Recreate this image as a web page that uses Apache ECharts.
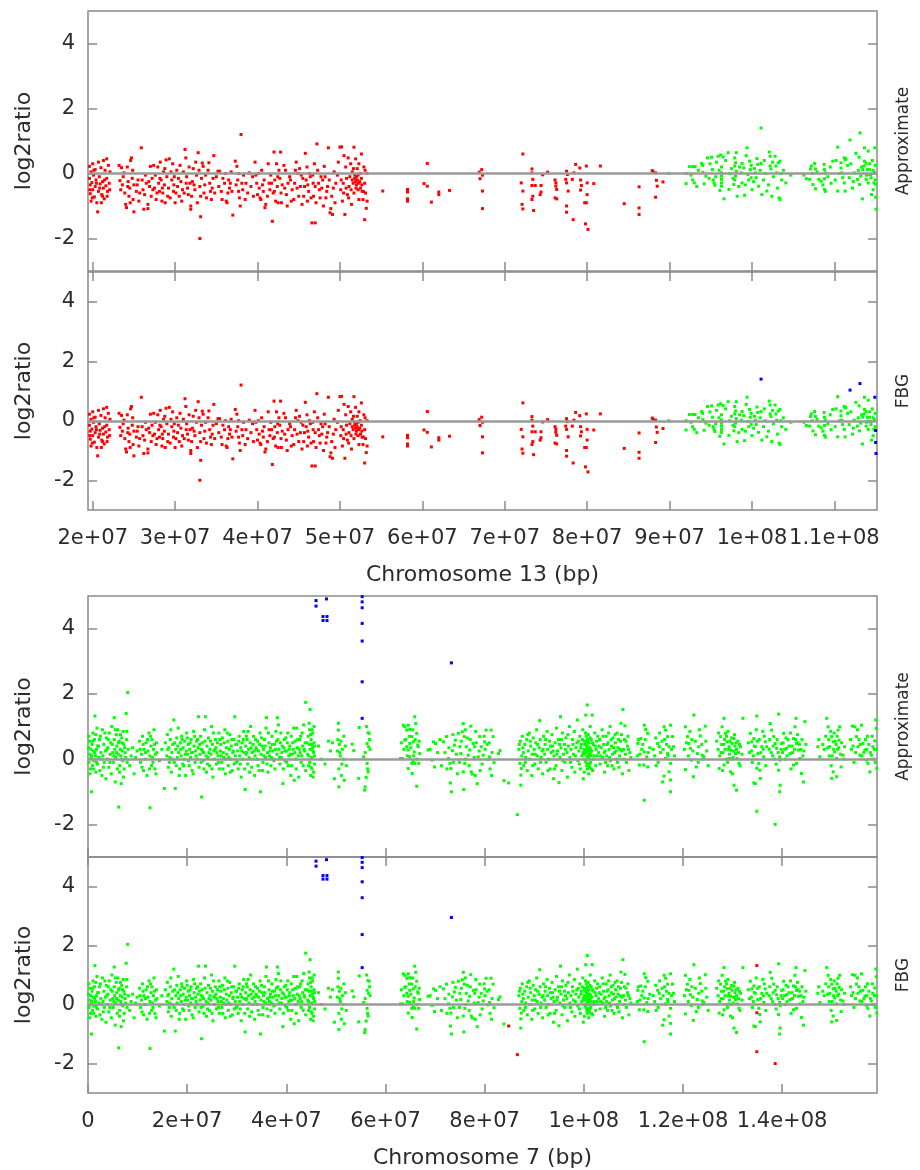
<!DOCTYPE html>
<html>
<head>
<meta charset="utf-8">
<script src="https://cdn.jsdelivr.net/npm/echarts@6/dist/echarts.min.js"></script>
<style>
  html, body { margin: 0; padding: 0; background: #fff; }
  #chart { width: 920px; height: 1170px; }
</style>
</head>
<body>
<div id="chart"></div>
<script>
// positions are in Mb, values are log2 ratios

// chromosome 13: called as loss (red) in both panels
var chr13Loss = [
  [19.6,-0.15],[19.6,0.22],[19.7,-0.35],[19.7,-0.62],[19.8,0.05],[19.8,-0.85],[19.9,-0.28],[20.0,0.3],[20.0,-0.5],[20.1,-0.05],
  [20.2,-0.72],[20.3,0.12],[20.3,-0.4],[20.4,-0.2],[20.5,-0.9],[20.6,-1.18],[20.7,0.35],[20.7,-0.55],[20.8,-0.1],[20.9,-0.32],
  [21.0,0.18],[21.1,-0.65],[21.2,-0.25],[21.3,-0.45],[21.3,0.4],[21.4,-0.78],[21.5,0.1],[21.6,-0.38],[21.7,0.45],[21.7,-0.15],
  [21.8,-0.55],[21.9,0.25],[22.0,-0.3],[22.1,0.05],[21.2,-0.7],
  [19.65,-0.5],[19.95,-0.75],[20.15,0.1],[20.45,-0.3],[20.85,-0.45],[21.05,-0.9],[21.45,-0.2],[21.75,-0.7],[22.05,-0.5],
  [23.2,0.25],[23.3,-0.22],[23.5,0.18],[23.6,-0.35],[23.8,0.02],[23.9,-0.6],[24.0,-0.95],[24.1,-1.05],[24.2,0.2],[24.3,-0.25],
  [24.4,-0.7],[24.5,-0.45],[24.6,0.4],[24.7,0.48],[24.8,-0.15],[24.9,-0.8],[25.0,-1.18],[25.0,-0.35],
  [23.4,-0.5],[23.7,-0.1],[24.25,-0.4],[24.55,-0.9],[24.85,0.1],
  [25.3,-0.55],[25.5,-0.2],[25.6,-0.85],[25.9,0.79],[26.0,-0.2],[26.1,-0.5],[26.2,-1.1],[26.3,-0.65],[26.5,-0.3],[26.7,-0.95],
  [26.7,-1.08],[26.9,-0.4],[27.0,0.22],[27.1,-0.7],[27.2,-0.15],
  [25.4,-0.35],[25.7,-0.6],[26.4,-0.05],[26.8,-0.25],[27.3,-0.5],
  [27.4,0.25],[27.5,-0.45],[27.6,-0.05],[27.7,-0.8],[27.9,0.2],[28.0,-0.3],[28.1,-0.55],[28.2,0.35],[28.3,-0.2],[28.4,-0.85],
  [28.5,-0.6],[28.6,0.05],[28.7,-0.35],[28.8,-0.9],[28.9,0.42],[29.0,-0.1],
  [27.8,-0.6],[28.15,-0.15],[28.45,-0.45],[28.75,0.15],[29.1,-0.7],
  [29.2,-0.45],[29.3,0.45],[29.4,-0.75],[29.6,-0.2],[29.7,0.3],[29.8,-0.55],[29.9,-0.1],[30.0,-0.9],[30.2,0.1],[30.3,-0.4],
  [30.5,-0.7],[30.6,0.25],[30.7,-0.25],[30.9,-0.5],[31.0,0.05],[31.1,-0.6],
  [29.5,0.05],[29.85,-0.35],[30.1,-0.6],[30.4,-0.15],[30.8,-0.85],
  [31.2,0.74],[31.3,0.48],[31.4,-0.1],[31.5,-0.45],[31.6,-0.65],[31.8,-0.3],[31.9,-1.0],[31.9,-1.1],[32.1,-0.25],[32.2,0.15],
  [32.4,-0.5],[32.6,-0.05],[32.8,0.64],[32.9,0.1],[33.0,-2.0],[33.0,-0.4],[33.1,-1.33],[33.1,-0.7],
  [31.35,-0.3],[31.7,0.2],[32.0,-0.7],[32.3,-0.35],[32.5,0.35],[32.7,-0.9],
  [33.3,0.32],[33.4,0.22],[33.5,-0.6],[33.6,-0.35],[33.8,-0.75],[34.0,0.1],[34.1,0.33],[34.2,-0.3],[34.4,-0.8],[34.5,-0.45],
  [34.7,0.55],[34.8,-0.6],[35.0,-0.1],
  [33.2,-0.15],[33.7,-0.05],[34.3,-0.55],[34.6,-0.15],
  [35.2,0.07],[35.4,0.07],[35.6,-0.55],[35.8,-0.15],[36.0,-0.3],[36.2,-0.85],[36.3,-0.9],[36.5,-0.2],[36.6,-0.45],[36.8,0.05],
  [37.0,-1.28],[36.9,-0.55],
  [35.3,-0.4],[35.7,-0.8],[36.1,0.0],[36.4,-0.6],[36.7,-0.3],
  [37.3,0.38],[37.5,0.22],[37.6,-0.2],[37.7,-0.55],[37.8,-0.75],[37.9,-1.0],[38.0,1.2],[38.1,-0.3],[38.3,-0.05],[38.6,-0.3],
  [38.8,-0.6],[39.0,0.02],
  [37.4,-0.35],[37.7,0.0],[38.2,-0.5],[38.5,-0.8],
  [39.4,-0.1],[39.7,0.35],[39.8,-0.05],[40.0,-0.65],[40.1,0.0],[40.3,-0.75],[40.4,-0.8],[40.6,-0.35],[40.7,-0.55],[40.9,-1.05],
  [41.0,-0.95],[40.5,0.1],
  [39.2,-0.4],[39.5,-0.7],[39.9,-0.3],[40.2,-0.45],[40.8,-0.2],
  [41.3,0.3],[41.4,-0.3],[41.5,-0.5],[41.6,-0.05],[41.8,-1.47],[41.9,-0.6],[42.0,0.66],[42.1,-0.2],[42.2,-0.85],[42.3,0.3],
  [42.4,-0.4],[42.5,-0.9],[42.6,0.1],[42.7,-0.15],[42.8,0.66],[42.9,-0.9],[43.0,-0.35],
  [41.2,-0.7],[41.7,-0.3],[42.05,-0.55],[42.45,-0.1],[42.85,-0.6],
  [43.2,0.25],[43.4,0.1],[43.5,-0.65],[43.6,-1.0],[43.9,-0.1],[44.0,-0.2],[44.2,-0.5],[44.4,-0.8],[44.6,0.1],[44.7,0.35],
  [44.8,-0.45],[45.0,-0.7],
  [43.3,-0.45],[43.7,-0.3],[44.1,-0.85],[44.5,-0.3],[44.9,0.0],
  [45.1,0.15],[45.3,-0.05],[45.5,-0.15],[45.6,-0.7],[45.8,0.62],[45.9,-0.2],[46.0,0.2],[46.1,-0.35],[46.2,-0.55],[46.4,-0.1],
  [46.5,-0.75],[46.6,-1.52],[46.7,-0.05],[46.8,-0.7],[46.9,0.3],[47.0,-1.52],[47.0,-0.4],
  [45.2,-0.4],[45.4,-0.95],[45.7,-0.4],[46.05,-0.85],[46.3,0.0],[46.75,-0.3],
  [47.2,0.91],[47.4,-0.3],[47.5,-0.5],[47.7,-0.1],[47.9,-0.2],[48.1,0.22],[48.3,-0.75],[48.5,-0.4],[48.6,0.79],[48.8,-1.21],
  [48.9,-1.08],[49.0,-0.7],[49.1,-1.26],[49.3,0.05],[49.5,-0.3],
  [47.1,-0.9],[47.3,0.1],[47.6,-0.75],[47.8,-0.45],[48.0,-1.0],[48.2,-0.1],[48.4,-0.55],[48.7,-0.2],[49.2,-0.45],[49.4,-0.9],
  [49.7,-0.05],[49.8,0.35],[50.0,0.81],[50.1,-0.5],[50.2,0.82],[50.3,-0.85],[50.4,-0.3],[50.5,0.55],[50.6,-1.26],[50.7,0.2],
  [50.8,-0.15],[50.9,-0.65],[51.0,0.48],[51.1,-0.4],[51.2,-0.1],[51.3,0.3],[51.4,-0.95],[51.5,-0.2],[51.5,0.05],[51.6,-0.3],
  [51.7,0.81],[51.7,-0.6],[51.8,-0.15],[51.8,-0.05],[51.9,0.45],[51.9,-0.25],[52.0,-0.1],[52.0,-0.35],[52.1,0.15],[52.1,-0.2],
  [52.2,-0.5],[52.2,-0.05],[52.3,-0.8],[52.3,0.3],[52.4,-0.25],[52.5,-0.45],[52.6,0.6],[52.6,-0.15],[52.7,-0.55],[52.8,-0.8],
  [52.9,0.2],[53.0,-1.42],[53.0,-0.3],[53.1,-0.6],[53.2,-1.07],[53.3,-0.85],[53.3,0.0],
  [50.15,-0.2],[50.45,-0.6],[50.75,-0.45],[51.05,-0.75],[51.35,-0.5],[51.65,0.15],[51.95,-0.45],[52.25,-0.3],[52.45,0.0],
  [52.65,-0.35],[52.85,-0.55],[53.05,0.1],
  [55.2,-0.54],[58.2,-0.49],[58.2,-0.57],[58.2,-0.78],[58.2,-0.85],[60.2,-0.31],[60.6,-0.39],[60.6,0.31],[61.1,-0.88],
  [62.0,-0.57],[62.0,-0.65],[63.3,-0.52],
  [66.9,0.04],[67.2,0.12],[67.3,-0.05],[67.0,-0.16],[67.3,-0.54],[67.3,-1.08],
  [72.2,0.6],[72.0,-0.29],[72.2,-0.54],[72.1,-0.95],[72.2,-1.09],
  [73.3,0.14],[73.3,0.02],[73.4,-0.18],[73.3,-0.37],[73.4,-0.7],[73.3,-0.8],[73.5,-1.14],[73.7,-0.37],
  [74.4,-0.37],[74.4,-0.57],[74.3,-0.65],[74.6,-0.04],[75.2,0.04],
  [76.1,-0.2],[76.2,-0.29],[76.2,-0.39],[76.3,-0.49],[76.1,-0.75],[76.3,-0.78],
  [77.5,0.07],[77.6,-0.03],[77.4,-0.18],[77.5,-0.29],[77.7,-0.54],[77.5,-1.0],[77.5,-1.19],
  [78.3,-1.42],[78.6,0.28],[78.4,0.02],[78.2,-0.18],
  [79.1,0.17],[79.2,-0.2],[79.3,-0.37],[79.2,-0.51],
  [79.9,0.23],[80.0,-0.29],[80.0,-0.65],[79.9,-0.9],[79.7,-0.9],[79.8,-1.55],[80.1,-1.72],
  [80.8,-0.31],[81.6,0.23],[84.5,-0.93],[86.3,-0.41],[86.3,-1.06],[86.3,-1.26],
  [87.9,0.09],[88.0,0.05],[88.3,0.02],[88.4,-0.21],[88.5,-0.39],[88.3,-0.73],[89.2,-0.26]
];

// chromosome 13: normal (green) in both panels
var chr13Normal = [
  [89.9,0.0],[92.0,-0.31],[92.0,0.0],[92.4,0.21],[92.8,0.21],[93.1,0.21],[92.8,-0.2],[93.0,-0.29],[93.9,0.31],[94.05,0.04],
  [94.2,-0.32],[94.4,-0.08],[94.6,0.48],[95.1,0.5],[95.2,0.12],[95.3,-0.2],[95.4,-0.29],[95.5,-0.36],[95.9,0.53],[96.2,0.57],
  [96.5,0.51],[96.3,0.2],[96.3,0.02],[96.3,-0.08],[96.3,-0.18],[96.3,-0.29],[96.3,-0.39],[96.1,-0.52],[96.6,-0.78],[97.1,0.64],
  [97.2,-0.49],[97.9,0.48],[98.0,0.33],[97.9,0.23],[98.1,0.07],[98.0,-0.08],[97.9,-0.2],[97.8,-0.34],[98.1,0.64],[98.2,-0.7],
  [98.8,0.31],[99.0,0.17],[98.7,0.02],[98.8,-0.29],[99.1,-0.67],[99.4,0.79],[99.5,-0.03],[99.7,0.38],[99.8,0.12],[99.6,-0.2],
  [99.9,-0.13],[100.3,0.15],[100.6,0.46],[100.7,0.28],[100.5,-0.13],[100.8,-0.39],[100.4,0.02],[101.2,-0.65],[101.1,0.31],
  [101.4,-0.2],[101.8,-0.54],[102.1,0.66],[102.2,0.53],[102.2,0.23],[102.3,0.14],[102.4,-0.7],[102.8,0.53],[102.9,0.23],
  [103.0,0.02],[103.2,0.33],[103.4,0.38],[103.3,-0.75],[103.4,-0.8],[103.6,-0.2],[104.1,-0.29],[104.7,-0.05],
  [93.5,0.1],[94.8,-0.15],[95.7,0.35],[97.5,0.15],[98.4,-0.4],[99.3,0.55],[100.0,-0.5],[101.6,0.0],[102.6,-0.1],[103.8,0.1],
  [92.6,-0.05],[93.3,-0.4],[94.0,0.25],[94.9,0.3],[95.6,-0.1],[96.0,0.1],[96.8,0.4],[97.3,0.0],[97.7,-0.15],[98.5,0.2],
  [99.2,-0.35],[99.9,0.25],[100.2,-0.25],[101.0,0.1],[101.5,0.4],[102.0,-0.35],[102.5,0.35],[103.1,-0.45],[103.5,0.0],
  [106.3,-0.05],[106.6,-0.16],[107.0,-0.18],[107.1,0.14],[107.2,0.23],[107.6,0.31],[107.7,0.14],[107.4,-0.34],[107.7,-0.47],
  [108.1,-0.18],[108.4,-0.24],[108.75,0.28],[108.8,0.12],[108.9,0.02],[108.8,-0.16],[108.8,-0.49],[108.9,-0.55],
  [107.3,0.0],[107.9,0.05],[108.6,-0.35],
  [109.8,0.38],[110.4,0.81],[110.4,-0.54],[110.8,0.33],[110.8,0.17],[110.9,0.02],[111.0,-0.13],[111.2,-0.29],[111.2,0.48],
  [111.3,0.43],[111.4,0.45],[111.3,-0.54],[111.8,-0.13],[112.6,0.62],[112.4,0.02],[112.8,-0.18],[113.05,-0.34],[113.2,-0.08],
  [113.45,0.12],[113.6,0.23],[113.65,0.79],[113.4,-0.78],[113.65,0.38],[113.85,0.31],[114.0,0.12],[114.1,-0.03],[113.85,-0.18],
  [114.1,-0.29],[114.1,0.69],[114.5,-0.65],[114.25,0.12],[114.4,-0.03],[114.45,-0.13],[114.8,-0.29],[114.85,0.04],
  [109.2,-0.1],[109.5,0.2],[110.1,-0.2],[112.0,0.3],[112.2,-0.45],[113.0,0.5],[114.6,0.4],[114.7,-0.5],[114.95,-0.2],[114.95,0.25],
  [109.6,-0.3],[110.2,0.4],[110.6,0.0],[111.6,0.25],[112.3,-0.25],[112.9,0.1],[113.3,0.2],[113.9,-0.05],[114.3,0.3],[114.7,0.1]
];

// chromosome 13: normal in Approximate, gain (blue) in FBG
var chr13Gain = [
  [101.1,1.4],[111.9,1.03],[113.1,1.25],[114.9,0.79],[115.0,-0.33],[115.0,-0.73],[115.05,-1.1]
];

// chromosome 7: normal (green) in both panels
var chr7Normal = [
  [0.1,0.35],[0.2,-0.1],[0.3,0.55],[0.4,0.15],[0.5,-0.3],[0.6,0.05],[0.7,-1.0],[0.8,0.45],[0.9,-0.2],[1.0,0.8],
  [1.1,0.25],[1.2,-0.05],[1.3,0.6],[1.4,1.32],[1.5,0.1],[1.6,-0.4],[1.7,0.3],[1.8,0.95],[1.9,-0.15],
  [0.15,0.7],[0.35,-0.45],[0.55,0.3],[0.75,0.1],[0.95,0.55],[1.15,-0.3],[1.35,0.2],[1.55,0.75],[1.75,-0.1],[1.95,0.4],
  [2.1,0.4],[2.2,0.05],[2.4,-0.35],[2.5,0.7],[2.6,0.2],[2.8,-0.5],[2.9,0.9],[3.0,0.1],[3.2,0.45],[3.3,-0.1],
  [3.5,0.25],[3.6,-0.6],[3.7,0.65],[3.9,0.0],[2.3,0.6],[2.7,0.0],[3.1,-0.25],[3.4,0.8],[3.8,0.3],
  [4.0,0.35],[4.2,-0.25],[4.3,0.8],[4.5,0.15],[4.6,0.5],[4.7,-0.45],[4.8,1.0],[5.0,0.2],[5.1,-0.1],[5.3,1.27],
  [5.3,0.6],[5.4,0.3],[5.5,-0.7],[5.6,0.05],[5.7,0.75],[5.8,0.4],[5.9,-0.3],
  [4.1,0.6],[4.4,-0.1],[4.9,0.45],[5.2,0.1],[5.5,0.9],[5.75,0.2],
  [6.0,0.9],[6.1,0.15],[6.2,-1.47],[6.3,0.55],[6.4,-0.2],[6.5,0.3],[6.6,0.1],[6.7,-0.75],[6.8,0.65],[6.9,0.25],
  [7.0,-0.05],[7.1,0.85],[7.2,0.45],[7.3,-0.3],[7.5,0.2],[7.7,1.4],[7.8,0.6],[7.9,-0.1],[8.0,2.04],[8.1,0.3],
  [6.15,0.5],[6.35,-0.4],[6.55,0.75],[6.75,0.0],[6.95,0.5],[7.15,-0.55],[7.4,0.35],[7.6,0.05],[7.85,0.85],
  [8.4,-0.2],[8.7,0.1],[9.0,0.35],[9.3,-0.45],[9.6,0.05],[9.9,0.25],
  [10.4,0.55],[10.6,-0.1],[10.8,0.15],[11.0,0.7],[11.2,-0.35],[11.3,0.3],[11.5,0.0],[11.7,0.5],[11.9,-0.5],
  [12.1,0.25],[12.3,0.8],[12.5,-1.49],[12.5,0.1],[12.7,0.4],[12.8,-0.2],[12.9,0.6],[13.0,0.05],[13.2,0.3],[13.3,0.9],
  [13.5,-0.3],[13.6,0.15],[13.8,0.5],[13.9,0.2],
  [10.5,0.3],[10.9,-0.25],[11.1,0.45],[11.6,0.2],[12.0,0.6],[12.4,-0.3],[12.6,0.7],[13.1,-0.1],[13.4,0.45],[13.7,-0.45],
  [14.4,-0.05],[14.9,0.3],[15.4,-0.9],[15.6,0.5],[15.9,0.1],
  [16.0,0.75],[16.2,-0.25],[16.3,0.35],[16.5,0.05],[16.6,0.6],[16.8,-0.4],[16.9,0.2],[17.1,0.45],[17.3,1.2],[17.4,-0.1],
  [17.6,-0.9],[17.7,0.3],[17.9,0.65],
  [16.1,0.3],[16.4,-0.1],[16.7,0.9],[17.0,0.0],[17.5,0.5],[17.8,-0.2],
  [18.0,0.05],[18.2,0.95],[18.3,0.2],[18.5,-0.3],[18.6,0.5],[18.8,0.1],[18.9,0.7],[19.1,-0.15],[19.2,0.35],[19.4,0.0],
  [19.5,0.55],[19.7,-0.5],[19.8,0.25],[19.9,0.8],
  [18.1,0.4],[18.4,-0.5],[18.7,0.3],[19.0,0.6],[19.3,-0.2],[19.6,0.15],
  [20.1,0.15],[20.2,0.45],[20.4,-0.2],[20.5,0.3],[20.7,0.05],[20.8,0.6],[21.0,-0.35],[21.1,0.2],[21.3,0.85],[21.4,0.4],
  [21.6,-0.1],[21.7,0.25],[21.9,0.55],
  [20.0,0.65],[20.3,-0.05],[20.6,0.5],[20.9,0.2],[21.2,-0.45],[21.5,0.7],[21.8,0.1],
  [22.0,0.0],[22.2,0.35],[22.3,1.3],[22.4,-0.25],[22.6,0.15],[22.7,0.7],[22.9,-1.16],[22.9,0.3],[23.0,0.5],[23.2,-0.05],
  [23.3,0.2],[23.5,0.9],[23.7,1.3],[23.8,0.1],[23.9,-0.4],
  [22.1,0.6],[22.5,0.45],[22.8,-0.1],[23.1,0.25],[23.4,-0.3],[23.6,0.55],
  [24.0,0.4],[24.2,0.05],[24.3,0.65],[24.5,-0.2],[24.6,0.3],[24.8,0.15],[24.9,1.0],[25.1,0.45],[25.2,-0.55],[25.4,0.25],
  [25.5,0.0],[25.7,0.6],[25.8,0.35],[25.9,-0.15],
  [24.1,-0.15],[24.4,0.2],[24.7,0.55],[25.0,-0.3],[25.3,0.8],[25.6,0.3],
  [26.1,0.5],[26.2,0.1],[26.4,0.8],[26.5,-0.3],[26.7,0.25],[26.8,0.45],[27.0,-0.1],[27.1,0.65],[27.3,0.2],[27.4,0.05],
  [27.6,0.9],[27.7,-0.45],[27.9,0.35],
  [26.0,0.2],[26.3,-0.1],[26.6,0.6],[26.9,0.1],[27.2,-0.3],[27.5,0.5],[27.8,0.0],
  [28.0,0.15],[28.2,0.55],[28.3,-0.2],[28.5,0.3],[28.6,0.75],[28.8,0.0],[28.9,0.4],[29.1,-0.35],[29.2,0.2],[29.4,0.6],
  [29.6,1.3],[29.7,0.1],[29.9,-0.1],
  [28.1,0.8],[28.4,0.05],[28.7,-0.4],[29.0,0.6],[29.3,0.25],[29.5,-0.15],[29.8,0.45],
  [30.0,0.45],[30.2,0.25],[30.3,-0.3],[30.5,0.7],[30.6,0.1],[30.8,0.35],[30.9,-0.55],[31.1,0.5],[31.2,0.0],[31.4,0.85],
  [31.5,0.2],[31.7,-0.93],[31.8,0.4],[31.9,0.15],
  [30.1,-0.05],[30.4,0.55],[30.7,-0.15],[31.0,0.25],[31.3,0.6],[31.6,-0.3],[31.95,0.7],
  [32.1,0.6],[32.2,-0.15],[32.4,0.3],[32.5,0.05],[32.7,0.5],[32.8,1.0],[33.0,-0.25],[33.1,0.2],[33.3,0.45],[33.4,0.7],
  [33.6,-0.5],[33.7,0.1],[33.9,0.35],
  [32.0,0.2],[32.3,0.85],[32.6,-0.4],[32.9,0.35],[33.2,0.0],[33.5,0.25],[33.8,0.6],
  [34.1,0.0],[34.2,0.55],[34.4,0.25],[34.5,-0.35],[34.7,0.8],[34.8,-1.0],[34.9,0.15],[35.1,0.4],[35.3,-0.1],[35.4,0.3],
  [35.6,0.6],[35.8,0.05],[35.9,0.95],[36.0,1.27],
  [34.0,0.3],[34.3,-0.2],[34.6,0.45],[35.0,0.65],[35.2,-0.35],[35.5,0.1],[35.7,0.4],
  [36.2,0.2],[36.3,-0.4],[36.5,0.5],[36.6,0.1],[36.8,0.35],[36.9,-0.2],[37.1,0.7],[37.3,0.25],[37.4,0.0],[37.6,0.45],
  [37.7,-0.3],[37.9,0.85],
  [36.1,-0.15],[36.4,0.8],[36.7,0.25],[37.0,0.05],[37.2,0.45],[37.5,-0.05],[37.8,0.3],
  [38.1,0.15],[38.2,1.27],[38.3,0.6],[38.4,1.05],[38.5,0.3],[38.7,-0.15],[38.8,0.5],[39.0,0.05],[39.1,0.2],[39.3,-0.75],
  [39.5,0.35],[39.6,0.6],[39.8,-0.05],
  [38.0,0.55],[38.6,0.05],[38.9,0.8],[39.2,0.4],[39.4,-0.3],[39.7,0.25],[39.9,0.65],
  [40.0,0.25],[40.2,0.5],[40.4,-0.2],[40.5,0.1],[40.7,0.4],[40.9,-0.5],[41.0,0.7],[41.2,0.15],[41.4,0.3],[41.6,-0.65],
  [41.8,0.55],[41.9,0.0],
  [40.1,-0.1],[40.3,0.8],[40.6,0.3],[40.8,0.15],[41.1,-0.2],[41.3,0.5],[41.5,0.95],[41.7,0.2],
  [42.1,0.95],[42.2,0.35],[42.4,0.1],[42.5,-0.55],[42.7,0.6],[42.8,0.2],[43.0,-0.1],[43.2,0.8],[43.3,0.4],[43.5,1.05],
  [43.9,1.74],[43.7,0.25],[43.8,0.5],[43.9,-0.35],
  [42.0,-0.3],[42.3,0.6],[42.6,0.3],[42.9,0.7],[43.1,0.1],[43.4,-0.2],[43.6,0.3],
  [44.3,0.15],[44.4,0.7],[44.5,-0.2],[44.6,0.45],[44.7,0.9],[44.8,1.52],[44.8,0.3],[44.9,-0.5],[45.0,0.6],[45.1,0.05],
  [45.2,-0.3],[45.3,0.35],[45.3,0.8],[45.4,-0.55],[45.5,0.2],[45.6,0.5],[45.7,-0.15],[45.7,0.1],
  [44.2,0.5],[44.5,0.1],[44.6,1.1],[44.7,-0.1],[44.9,0.75],[45.0,-0.25],[45.1,0.45],[45.2,0.9],[45.4,0.25],[45.5,-0.4],
  [45.6,1.0],[45.7,0.4],
  [46.5,0.4],[47.1,0.0],[47.8,-0.15],[48.5,0.55],[48.9,0.25],[49.3,0.5],[49.7,-0.6],
  [50.3,0.25],[50.5,1.1],[50.5,0.89],[50.6,-0.3],[50.6,-0.85],[50.7,0.45],[50.9,0.1],[51.0,0.55],[51.1,-0.5],[51.3,0.3],
  [51.5,0.0],[51.7,-0.65],[51.9,0.4],[52.1,-0.2],[50.4,0.6],[50.8,0.2],[51.2,-0.15],[51.6,0.7],
  [53.3,0.46],[53.6,0.26],[54.6,-0.59],[54.7,0.97],[55.6,0.07],[55.8,-0.95],[55.9,-0.85],[56.1,-0.56],[56.3,0.48],[56.3,-0.13],
  [56.5,0.81],[56.5,-0.39],[56.6,0.38],[56.7,0.79],[56.9,0.3],[55.9,0.2],[56.2,1.0],[56.4,-0.3],[56.8,0.6],
  [63.0,0.02],[63.4,0.02],[63.6,1.04],[63.9,0.99],[63.9,0.58],[64.3,0.89],[64.3,0.38],[64.6,1.04],[64.6,0.28],[64.6,-0.29],
  [64.9,0.91],[64.9,0.48],[64.9,0.07],[65.3,0.69],[65.3,-0.13],[65.4,-0.44],[65.6,0.53],[65.6,-0.08],[65.8,0.22],[65.9,1.3],
  [65.9,-0.13],[66.1,1.09],[66.3,0.79],[66.3,-0.83],[66.5,0.43],[66.6,0.38],[66.7,-0.13],[66.9,0.17],
  [63.2,0.5],[63.7,0.3],[64.1,0.6],[64.4,0.1],[64.8,0.7],[65.1,0.35],[65.5,0.9],[65.7,0.1],[66.0,0.6],[66.4,0.0],[66.8,0.55],
  [68.6,0.28],[69.0,0.3],[69.7,0.53],[69.9,-0.24],[70.1,0.48],[69.4,-0.03],
  [71.7,0.53],[72.3,0.69],[72.7,0.02],[73.0,-0.13],[73.2,-0.29],[73.1,-0.73],[73.3,-1.0],[73.5,0.26],[73.9,0.43],[74.1,0.58],
  [74.7,0.79],[75.0,0.38],[75.2,0.17],[75.5,0.84],[75.7,1.09],[75.9,0.69],[76.0,-0.13],[75.7,-0.39],[75.8,-0.93],[76.3,0.38],
  [76.7,0.12],[77.0,0.28],[77.2,1.01],[77.3,-0.39],[77.5,-0.46],[77.7,0.48],[78.0,0.38],[78.3,0.5],[78.5,-0.75],[78.7,0.07],
  [79.0,0.69],[79.3,0.38],[79.7,0.12],[80.0,0.53],[80.3,0.89],[80.7,-0.01],[81.0,0.07],[81.3,0.89],[81.7,0.69],[81.9,-0.11],
  [72.0,0.2],[72.4,-0.3],[72.8,0.35],[73.7,-0.1],[74.3,0.15],[74.5,-0.45],[75.3,0.55],[76.2,0.0],[76.5,0.65],[76.9,-0.2],
  [77.9,0.05],[78.1,-0.5],[78.9,0.25],[79.5,-0.15],[80.1,0.3],[80.5,0.45],[81.1,-0.3],[81.5,0.2],
  [70.5,0.2],[71.0,0.6],[71.3,-0.2],[73.6,0.75],[74.9,-0.1],[76.1,0.9],[77.1,0.6],[78.2,0.85],[79.1,-0.35],[79.9,0.7],
  [80.9,0.5],[81.4,-0.5],
  [82.8,0.17],[83.1,0.26],[83.9,-0.66],
  [86.9,0.3],[87.1,-0.13],[87.2,0.55],[87.3,-0.49],[87.3,-0.8],[87.4,-0.29],[87.5,0.1],[87.6,0.7],[87.8,0.2],[87.9,-0.2],
  [88.1,0.45],[88.3,0.05],[88.5,0.6],[88.6,-0.35],[88.8,0.25],[89.0,0.8],[89.1,0.0],[89.3,0.4],[89.5,-0.5],[89.6,0.15],
  [89.8,0.65],[90.0,0.3],[90.1,-0.15],[90.3,0.5],[90.5,0.9],[90.6,0.1],[90.8,-0.3],[91.0,0.35],[91.1,1.18],[91.2,0.6],
  [91.4,0.05],[91.6,0.25],[91.7,-0.45],[91.9,0.7],[92.1,0.15],[92.2,0.45],[92.4,-0.1],[92.6,0.85],[92.7,0.3],[92.9,0.0],
  [93.1,0.55],[93.2,-0.3],[93.4,0.2],[93.6,0.75],[93.7,0.4],[93.9,-0.6],[94.0,0.1],[94.2,0.5],[94.4,-0.2],[94.5,0.95],
  [94.7,0.25],[94.9,0.6],[95.0,-0.72],[95.2,0.05],[95.3,1.3],[95.4,0.35],[95.6,-0.35],[95.7,0.8],[95.9,0.15],[96.1,0.45],
  [96.2,-0.1],[96.4,0.65],[96.6,0.2],[96.7,-0.55],[96.9,0.4],[97.1,1.0],[97.2,0.05],[97.4,0.3],[97.6,-0.25],[97.7,0.6],
  [97.9,0.15],[98.1,0.85],[98.2,-0.4],[98.4,0.35],[98.6,0.5],[98.7,1.2],[98.8,-0.05],[99.0,0.25],[99.2,0.7],[99.3,-0.3],
  [99.5,0.45],[99.6,0.1],[99.8,0.9],[99.9,-0.6],[100.1,0.3],[100.2,0.0],[100.4,1.35],[100.4,0.55],[100.5,0.2],[100.6,-0.2],
  [100.7,1.66],[100.7,0.4],[100.8,0.05],[100.9,0.75],[101.0,-0.45],[101.1,0.15],[101.2,0.35],[101.3,1.0],[101.4,-0.1],
  [101.5,0.6],[101.6,0.25],[101.7,1.35],[101.8,-0.35],[101.9,0.45],[102.1,0.1],[102.2,0.8],[102.4,-0.2],[102.5,0.3],[102.6,0.55],
  [100.0,0.15],[100.3,-0.05],[100.6,0.3],[100.8,0.5],[101.0,0.1],[101.2,-0.15],[100.5,0.7],[100.9,0.25],[100.2,0.45],
  [101.1,0.0],[100.7,-0.3],[100.1,-0.4],[101.3,0.2],
  [87.0,0.45],[87.7,0.35],[88.2,-0.1],[88.7,0.75],[89.2,0.55],[89.7,-0.2],[90.2,0.15],[90.7,0.45],[91.3,-0.1],[91.8,0.3],
  [92.3,0.6],[92.8,-0.35],[93.3,0.4],[93.8,0.25],[94.1,-0.3],[94.6,0.15],[95.1,0.45],[95.5,0.6],[95.8,-0.05],[96.3,0.3],
  [96.8,0.75],[97.3,-0.1],[97.8,0.45],[98.3,0.1],[98.9,0.55],[99.1,-0.15],[99.4,0.35],[99.7,0.6],[99.85,0.2],[100.05,0.55],
  [100.25,0.25],[100.35,0.8],[100.45,-0.1],[100.55,0.4],[100.65,0.1],[100.75,0.6],[100.85,-0.15],[100.95,0.35],[101.05,0.5],
  [101.15,-0.25],[101.25,0.65],[101.35,0.3],[101.45,0.1],[101.55,-0.3],[101.75,0.5],[101.95,0.0],[102.3,0.4],[102.7,0.1],[102.8,0.7],
  [103.0,0.2],[103.2,0.6],[103.3,-0.15],[103.5,0.35],[103.7,0.9],[103.8,0.05],[104.0,0.45],[104.2,-0.4],[104.3,0.25],[104.5,0.7],
  [104.6,0.1],[104.8,-0.2],[104.9,0.5],[105.1,0.3],[105.3,1.0],[105.4,-0.05],[105.6,0.4],[105.8,0.15],[105.9,0.65],[106.1,-0.3],
  [106.2,0.2],[106.4,0.5],[106.6,0.0],[106.7,0.8],[106.9,0.35],[107.1,-0.25],[107.2,0.1],[107.4,0.55],[107.5,1.1],[107.7,0.25],
  [107.8,-0.45],[107.9,1.52],[108.0,0.3],[108.2,0.6],[108.3,1.02],[108.4,0.15],[108.6,-0.1],[108.8,0.4],[108.9,0.7],[109.1,-0.35],
  [109.3,0.2],[109.5,0.05],
  [103.1,0.4],[103.4,0.1],[103.9,0.7],[104.1,0.2],[104.4,-0.1],[104.7,0.45],[105.0,0.8],[105.2,0.05],[105.5,0.6],[105.7,-0.2],
  [106.0,0.35],[106.3,0.75],[106.5,0.25],[106.8,-0.1],[107.0,0.6],[107.3,0.3],[107.6,0.75],[108.1,0.0],[108.5,0.55],[109.0,0.3],
  [110.9,0.48],[111.5,0.63],[112.2,1.04],[112.5,0.91],[112.9,0.79],[112.2,0.22],[112.7,0.07],[111.2,-0.18],[112.1,-0.18],
  [112.9,-0.24],[112.2,-1.26],[110.8,0.1],[111.7,0.3],[113.3,0.35],[111.0,0.6],[111.3,0.15],[111.9,0.45],[112.4,0.6],[113.0,0.2],
  [114.9,0.48],[115.2,0.38],[116.2,0.99],[116.5,0.89],[116.9,0.69],[117.2,0.38],[117.5,1.04],[117.9,0.69],[118.1,0.38],
  [117.5,-0.13],[117.2,-0.39],[116.2,-0.52],[115.9,-0.7],[117.5,-0.64],[117.5,-1.0],[116.9,0.17],[116.5,0.02],[114.3,0.1],
  [114.6,-0.2],[115.5,0.2],[115.8,0.55],[118.3,0.1],[114.0,0.3],
  [114.5,0.65],[115.0,-0.1],[115.3,0.8],[116.0,0.3],[116.3,0.6],[116.7,0.45],[117.0,0.1],[117.7,0.3],
  [120.5,0.99],[120.9,0.69],[121.2,0.48],[121.5,0.33],[121.7,-0.03],[120.5,-0.32],[122.2,1.35],[122.9,0.17],[123.2,0.38],
  [123.5,0.71],[123.9,0.12],[124.2,0.07],[124.5,1.01],[122.1,-0.54],[122.7,-0.24],[120.3,0.3],[121.1,0.1],[121.8,0.6],
  [123.1,-0.1],[123.8,0.45],[124.8,0.25],[125.1,-0.2],
  [120.7,0.5],[121.4,0.85],[122.0,0.25],[122.5,0.55],[123.3,0.9],[124.0,0.0],[124.6,0.55],
  [127.6,0.69],[127.9,0.99],[128.3,1.25],[128.6,0.79],[128.9,0.53],[129.3,0.38],[129.6,0.28],[129.9,0.48],[130.3,0.63],
  [130.6,0.17],[130.9,0.02],[131.3,-0.13],[129.6,-0.39],[130.3,-0.8],[130.8,-0.95],[127.3,-0.29],[128.3,-0.18],[131.6,0.38],
  [132.1,1.25],[129.3,0.02],[127.1,0.3],[127.4,0.1],[127.8,0.45],[128.1,0.2],[128.4,0.6],[128.7,0.0],[129.1,0.85],[129.4,0.15],
  [129.8,0.65],[130.1,0.05],[130.5,0.4],[130.8,0.3],[131.1,0.55],[131.5,-0.2],[131.9,0.15],[128.0,-0.35],[129.0,-0.1],[130.0,-0.45],
  [126.8,0.55],[127.2,0.8],[127.7,0.2],[128.2,0.45],[128.5,0.3],[128.8,0.7],[129.2,0.3],[129.5,0.55],[129.7,0.0],[130.2,0.25],
  [130.4,0.75],[130.7,0.5],[131.2,0.2],[131.4,0.45],
  [133.6,0.79],[133.9,0.53],[134.3,0.63],[134.6,0.38],[135.1,0.17],[135.3,-0.13],[135.6,-0.59],[134.6,-0.75],[134.3,-0.73],
  [135.9,0.38],[136.3,0.07],[136.6,0.53],[136.9,0.38],[135.5,-0.34],[133.4,0.2],[134.0,-0.1],[134.8,0.9],[135.4,0.6],
  [136.1,0.85],[136.7,-0.2],
  [133.2,0.5],[133.8,0.25],[134.2,0.1],[134.4,0.4],[135.0,0.55],[135.7,0.2],[136.2,0.3],[136.4,0.7],
  [137.6,1.09],[137.9,0.89],[138.3,0.69],[138.6,0.48],[138.9,0.33],[139.3,1.38],[139.5,0.07],[139.6,-0.03],[139.3,-0.34],
  [139.6,-0.8],[139.5,-1.0],[139.9,0.48],[140.3,0.79],[140.9,0.33],[141.6,0.17],[142.3,0.63],[142.6,0.99],[142.8,1.25],
  [142.9,0.48],[143.3,0.28],[143.6,0.02],[143.9,-0.44],[144.3,-0.7],[144.6,1.15],[142.9,-0.13],[142.3,-0.18],[137.4,0.3],
  [138.1,0.1],[138.8,-0.15],[140.1,0.2],[140.6,0.0],[141.2,0.6],[141.8,-0.3],[142.0,0.4],[143.1,0.75],[143.8,0.3],[144.2,0.1],
  [144.8,0.45],
  [137.5,0.6],[137.8,0.2],[138.2,0.4],[138.5,0.0],[139.0,0.6],[139.2,0.2],[139.8,0.3],[140.2,0.5],[140.5,0.3],[140.8,0.65],
  [141.0,0.1],[141.4,0.4],[141.7,0.8],[142.1,0.2],[142.5,0.3],[142.7,0.6],[143.2,0.5],[143.5,0.45],[144.0,0.6],[144.4,0.25],
  [147.2,0.38],[147.6,0.07],[149.0,1.25],[149.3,0.99],[149.6,0.38],[150.0,0.69],[150.3,0.53],[150.6,0.22],[151.0,0.02],
  [151.3,0.89],[151.6,0.99],[151.9,-0.24],[152.3,0.12],[151.0,-0.54],[150.3,-0.39],[150.0,-0.59],[151.5,0.58],[152.6,0.38],
  [148.5,0.3],[149.5,0.1],[150.5,0.8],[151.2,0.3],[150.9,0.45],[151.8,0.15],[149.9,-0.2],
  [147.4,0.6],[148.2,0.45],[148.8,0.7],[149.2,0.35],[149.4,0.6],[149.8,0.85],[150.1,0.1],[150.4,0.3],[150.7,0.55],[151.1,0.7],
  [151.4,0.35],[152.0,0.5],[152.5,0.0],
  [154.2,1.01],[154.7,0.99],[155.0,0.69],[155.3,0.38],[155.7,0.12],[156.0,1.04],[156.3,0.48],[156.7,0.28],[157.0,-0.03],
  [157.3,-0.13],[157.7,-0.39],[158.0,0.12],[158.3,0.38],[158.7,0.56],[158.9,1.2],[159.0,0.94],[159.1,-0.29],[154.0,0.3],
  [154.5,-0.1],[155.5,0.6],[156.5,0.2],[157.5,0.45],[158.5,0.0],[157.2,0.7],[159.0,0.3],
  [153.8,0.6],[154.3,0.4],[154.8,0.2],[155.2,0.9],[155.8,0.45],[156.1,0.1],[156.8,0.6],[157.1,0.3],[157.8,0.2],[158.2,0.7],
  [158.6,0.3],[158.8,-0.1]
];

// chromosome 7: gain (blue) in both panels
var chr7Gain = [
  [46.0,4.86],[46.0,4.69],[48.1,4.91],[47.4,4.37],[47.4,4.25],[48.2,4.37],[48.2,4.25],
  [55.3,4.98],[55.3,4.82],[55.3,4.64],[55.3,4.16],[55.3,3.62],[55.3,2.37],[55.3,1.25],[73.3,2.95]
];

// chromosome 7: normal in Approximate, loss (red) in FBG
var chr7Loss = [
  [84.85,-0.73],[86.6,-1.7],[134.9,1.32],[134.9,-0.28],[134.9,-1.6],[138.6,-2.0]
];

// axis ticks and their printed labels
var chr13Ticks = [20, 30, 40, 50, 60, 70, 80, 90, 100, 110];
var chr13TickLabels = ['2e+07', '3e+07', '4e+07', '5e+07', '6e+07', '7e+07', '8e+07', '9e+07', '1e+08', '1.1e+08'];
var chr7Ticks = [0, 20, 40, 60, 80, 100, 120, 140];
var chr7TickLabels = ['0', '2e+07', '4e+07', '6e+07', '8e+07', '1e+08', '1.2e+08', '1.4e+08'];
var ratioTicks = [-2, 0, 2, 4];
var ratioTickLabels = ['-2', '0', '2', '4'];

var frameColor = '#8a8a8a';
var textColor = '#2b2b2b';
var font = 'DejaVu Sans';

var red = '#ff0000', green = '#00ff00', blue = '#0000ff';

// one entry per panel, top to bottom
var panels = [
  { top: 11,  height: 260, xmin: 19.43, xmax: 115.17, ticks: chr13Ticks, labels: chr13TickLabels, facet: 'Approximate', title: '', topTicks: false },
  { top: 272, height: 238, xmin: 19.43, xmax: 115.17, ticks: chr13Ticks, labels: chr13TickLabels, facet: 'FBG', title: 'Chromosome 13 (bp)', topTicks: true },
  { top: 596, height: 261, xmin: 0, xmax: 159.14, ticks: chr7Ticks, labels: chr7TickLabels, facet: 'Approximate', title: '', topTicks: false },
  { top: 857, height: 239, xmin: 0, xmax: 159.14, ticks: chr7Ticks, labels: chr7TickLabels, facet: 'FBG', title: 'Chromosome 7 (bp)', topTicks: true }
];

function lookup(ticks, labels) {
  return function (v) {
    for (var i = 0; i < ticks.length; i++) {
      if (Math.abs(ticks[i] - v) < 1e-6) return labels[i];
    }
    return '';
  };
}

var grids = [], xAxes = [], yAxes = [], series = [];

panels.forEach(function (p, i) {
  grids.push({ left: 88, width: 794, top: p.top, height: p.height, show: true,
    borderColor: frameColor, borderWidth: 1.5, backgroundColor: 'transparent' });

  var tick = { show: true, inside: true, length: 9, lineStyle: { color: frameColor, width: 1.5 } };
  var noLine = { show: false, onZero: false };

  // bottom axis
  xAxes.push({
    type: 'value', gridIndex: i, position: 'bottom', min: p.xmin, max: p.xmax,
    axisLine: noLine, splitLine: { show: false },
    axisTick: Object.assign({ customValues: p.ticks }, tick),
    axisLabel: { show: p.title !== '', customValues: p.ticks, formatter: lookup(p.ticks, p.labels),
      color: textColor, fontFamily: font, fontSize: 21, margin: 18 },
    name: p.title, nameLocation: 'middle', nameGap: 54,
    nameTextStyle: { color: textColor, fontFamily: font, fontSize: 22 }
  });
  // top axis, ticks only
  xAxes.push({
    type: 'value', gridIndex: i, position: 'top', min: p.xmin, max: p.xmax,
    axisLine: noLine, splitLine: { show: false },
    axisTick: Object.assign({ customValues: p.ticks }, tick, { show: p.topTicks }),
    axisLabel: { show: false }
  });
  // left axis
  yAxes.push({
    type: 'value', gridIndex: i, position: 'left', min: -3, max: 5,
    axisLine: noLine, splitLine: { show: false },
    axisTick: Object.assign({ customValues: ratioTicks }, tick),
    axisLabel: { customValues: ratioTicks, formatter: lookup(ratioTicks, ratioTickLabels),
      color: textColor, fontFamily: font, fontSize: 21, margin: 13 },
    name: 'log2ratio', nameLocation: 'middle', nameGap: 53, nameRotate: 90,
    nameTextStyle: { color: textColor, fontFamily: font, fontSize: 22 }
  });
  // right axis, ticks and facet label
  yAxes.push({
    type: 'value', gridIndex: i, position: 'right', min: -3, max: 5,
    axisLine: noLine, splitLine: { show: false },
    axisTick: Object.assign({ customValues: ratioTicks }, tick),
    axisLabel: { show: false },
    name: p.facet, nameLocation: 'middle', nameGap: 18, nameRotate: 90,
    nameTextStyle: { color: textColor, fontFamily: font, fontSize: 17 }
  });

  // zero line under the points
  series.push({
    type: 'line', xAxisIndex: i * 2, yAxisIndex: i * 2, data: [], z: 1, silent: true,
    markLine: { symbol: 'none', silent: true, label: { show: false },
      lineStyle: { color: '#9a9a9a', width: 2.5, type: 'solid' }, data: [{ yAxis: 0 }] }
  });
});

function dots(data, color, panel) {
  return {
    type: 'scatter', xAxisIndex: panel * 2, yAxisIndex: panel * 2, data: data,
    symbol: 'rect', symbolSize: 3, itemStyle: { color: color, opacity: 1 }, silent: true, z: 3
  };
}

// chromosome 13
series.push(dots(chr13Normal.concat(chr13Gain), green, 0));
series.push(dots(chr13Loss, red, 0));
series.push(dots(chr13Normal, green, 1));
series.push(dots(chr13Loss, red, 1));
series.push(dots(chr13Gain, blue, 1));
// chromosome 7
series.push(dots(chr7Normal.concat(chr7Loss), green, 2));
series.push(dots(chr7Gain, blue, 2));
series.push(dots(chr7Normal, green, 3));
series.push(dots(chr7Loss, red, 3));
series.push(dots(chr7Gain, blue, 3));

var myChart = echarts.init(document.getElementById('chart'));
myChart.setOption({
  animation: false,
  backgroundColor: '#fff',
  grid: grids,
  xAxis: xAxes,
  yAxis: yAxes,
  series: series
});
</script>
</body>
</html>
